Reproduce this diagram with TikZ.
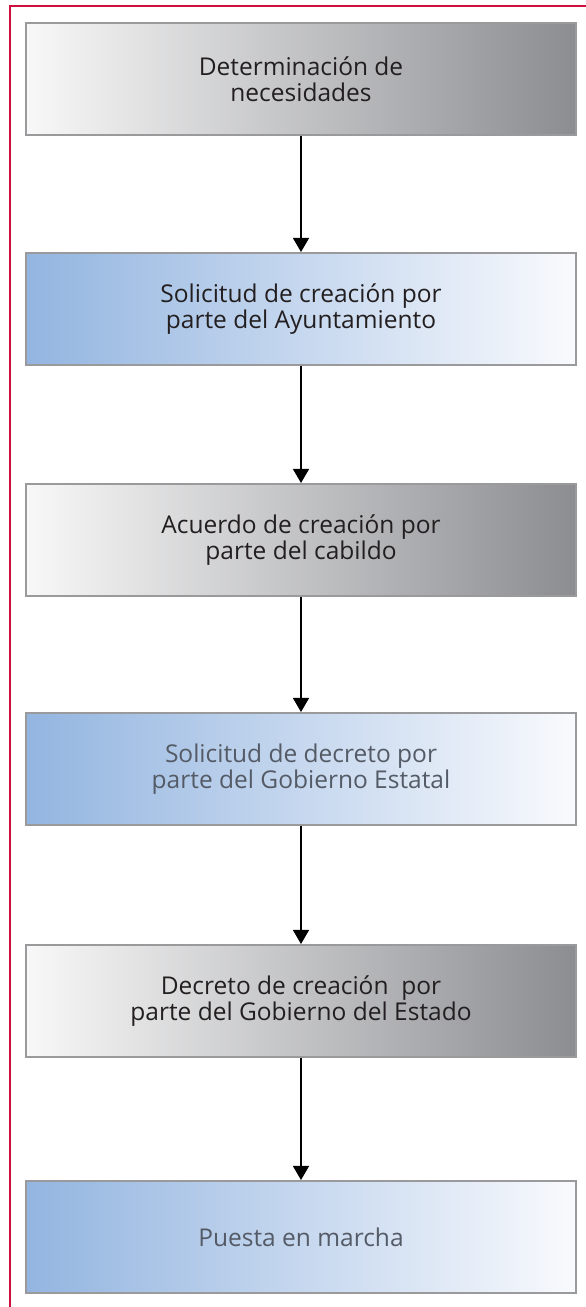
\documentclass[tikz,border=0pt]{standalone}
\usepackage{fontspec}
\setmainfont{Open Sans}
\usetikzlibrary{arrows.meta}
\definecolor{framered}{RGB}{205,16,62}
\definecolor{boxline}{RGB}{154,154,156}
\definecolor{grayleft}{RGB}{248,248,248}
\definecolor{grayright}{RGB}{140,141,145}
\definecolor{blueleft}{RGB}{147,181,224}
\definecolor{blueright}{RGB}{249,250,253}
\definecolor{darktext}{RGB}{35,31,32}
\definecolor{softtext}{RGB}{84,91,102}

\begin{document}
\begin{tikzpicture}[x=1pt, y=1pt,
    stage/.style={draw=boxline, line width=2pt, minimum width=550pt, minimum height=112pt,
        align=center, font=\fontsize{24.5}{26.5}\selectfont, text=darktext},
    graystage/.style={stage, left color=grayleft, right color=grayright},
    bluestage/.style={stage, left color=blueleft, right color=blueright}]
    \useasboundingbox (0,0) rectangle (586,1307);

    % the frame
    \draw[framered, line width=2pt] (10,0) |- (586,1301);

    % the stages
    \node[graystage] (necesidades) at (301,1228) {Determinación de\\necesidades};
    \node[bluestage] (ayuntamiento) at (301,998) {Solicitud de creación por\\parte del Ayuntamiento};
    \node[graystage] (cabildo) at (301,767) {Acuerdo de creación por\\parte del cabildo};
    \node[bluestage, text=softtext] (estatal) at (301,538) {Solicitud de decreto por\\parte del Gobierno Estatal};
    \node[graystage] (decreto) at (301,306) {Decreto de creación~ por\\parte del Gobierno del Estado};
    \node[bluestage, text=softtext] (marcha) at (301,70) {Puesta en marcha};

    % the arrows
    \draw[-{Triangle[width=16pt,length=14pt]}, line width=1.2pt] (necesidades) -- (ayuntamiento);
    \draw[-{Triangle[width=16pt,length=14pt]}, line width=1.2pt] (ayuntamiento) -- (cabildo);
    \draw[-{Triangle[width=16pt,length=14pt]}, line width=1.2pt] (cabildo) -- (estatal);
    \draw[-{Triangle[width=16pt,length=14pt]}, line width=1.2pt] (estatal) -- (decreto);
    \draw[-{Triangle[width=16pt,length=14pt]}, line width=1.2pt] (decreto) -- (marcha);
\end{tikzpicture}
\end{document}
